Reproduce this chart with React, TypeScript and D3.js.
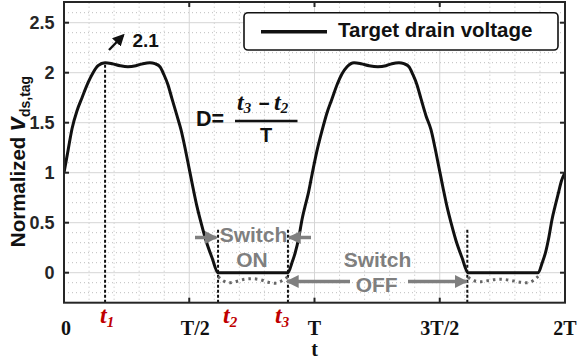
import React from "react";
import * as d3 from "d3";

// Normalized target drain voltage over two switching periods (t in units of T)
const curveT = [
  0.0, 0.016, 0.032, 0.052, 0.072, 0.096, 0.116, 0.136, 0.164, 0.192, 0.224, 0.255, 0.287, 0.315, 0.343,
  0.363, 0.383, 0.399, 0.415, 0.431, 0.451, 0.467, 0.483, 0.499, 0.515, 0.531, 0.547, 0.567, 0.591, 0.615,
  0.894, 0.91, 0.922, 0.938, 0.95, 0.962, 0.974, 0.99,
  1.01, 1.03, 1.05, 1.07, 1.09, 1.11, 1.13, 1.158, 1.186, 1.218, 1.253, 1.285, 1.309, 1.337,
  1.357, 1.377, 1.393, 1.409, 1.425, 1.445, 1.465, 1.481, 1.497, 1.513, 1.529, 1.545, 1.565, 1.589, 1.613,
  1.893, 1.909, 1.921, 1.936, 1.948, 1.96, 1.972, 1.986, 2.0,
];
const curveV = [
  1.0, 1.22, 1.44, 1.62, 1.75, 1.9, 2.0, 2.07, 2.1, 2.09, 2.07, 2.06, 2.07, 2.09, 2.1,
  2.09, 2.06, 1.98, 1.88, 1.74, 1.57, 1.43, 1.25, 1.05, 0.85, 0.66, 0.5, 0.32, 0.15, 0.0,
  0.0, 0.1, 0.19, 0.36, 0.53, 0.66, 0.78, 0.98,
  1.22, 1.42, 1.6, 1.74, 1.88, 1.99, 2.06, 2.1, 2.09, 2.07, 2.06, 2.07, 2.09, 2.1,
  2.09, 2.06, 1.98, 1.88, 1.74, 1.57, 1.43, 1.25, 1.05, 0.85, 0.66, 0.5, 0.32, 0.15, 0.0,
  0.0, 0.1, 0.19, 0.36, 0.53, 0.66, 0.78, 0.92, 1.0,
];

// Small negative ripple while the switch is on (dotted)
const rippleT1 = [0.615, 0.635, 0.659, 0.691, 0.723, 0.751, 0.783, 0.815, 0.843, 0.87, 0.894];
const rippleV1 = [-0.04, -0.08, -0.1, -0.085, -0.065, -0.06, -0.07, -0.095, -0.105, -0.08, -0.04];
const rippleT2 = [1.613, 1.637, 1.665, 1.701, 1.741, 1.78, 1.82, 1.848, 1.872, 1.893];
const rippleV2 = [-0.045, -0.08, -0.09, -0.075, -0.065, -0.075, -0.095, -0.1, -0.08, -0.035];

// Time markers
const t1 = 0.164;
const t2 = 0.615;
const t3 = 0.894;
const t2Next = 1.61;
const peakValue = 2.1;
const markerTop = 0.44;

const xTicks = [0, 0.5, 1, 1.5, 2];
const xTickLabels = ["0", "T/2", "T", "3T/2", "2T"];
const xLabelOffsets = [2, 6, 0, 0, 0];
const yTicks = [0, 0.5, 1, 1.5, 2, 2.5];
const yTickLabels = ["0", "0.5", "1", "1.5", "2", "2.5"];

const W = 578;
const H = 364;
const left = 64;
const right = 565;
const top = 2.7;
const bottom = 302.7;

const SANS = "'Liberation Sans', Arial, Helvetica, sans-serif";
const SERIF = "'Liberation Serif', 'Times New Roman', serif";
const GRAY = "#7f7f7f";
const RED = "#c00000";
const AXIS = "#262626";

export default function App() {
  const x = d3.scaleLinear().domain([0, 2]).range([left, right]);
  const y = d3.scaleLinear().domain([-0.3, 2.7]).range([bottom, top]);

  const line = d3
    .line<number>()
    .x((_, i) => x(curveT[i]))
    .y((v) => y(v))
    .curve(d3.curveMonotoneX);

  const rippleLine = (ts: number[]) =>
    d3
      .line<number>()
      .x((_, i) => x(ts[i]))
      .y((v) => y(v))
      .curve(d3.curveMonotoneX);

  const minorX = d3.range(0, 21).map((i) => i / 10).filter((v) => Math.abs(v * 2 - Math.round(v * 2)) > 1e-6);
  const minorY = d3.range(-2, 27).map((i) => i / 10).filter((v) => Math.abs(v * 2 - Math.round(v * 2)) > 1e-6);

  return (
    <svg width={W} height={H} style={{ position: "absolute", left: 0, top: 0, background: "#fff" }}>
      <defs>
        <marker id="grayHead" viewBox="0 0 10 10" refX="9" refY="5" markerWidth="13" markerHeight="13"
          markerUnits="userSpaceOnUse" orient="auto">
          <path d="M0,0 L10,5 L0,10 z" fill={GRAY} />
        </marker>
        <marker id="blackHead" viewBox="0 0 10 10" refX="8" refY="5" markerWidth="12" markerHeight="12"
          markerUnits="userSpaceOnUse" orient="auto">
          <path d="M0,0 L10,5 L0,10 z" fill="#111" />
        </marker>
        <clipPath id="plotClip">
          <rect x={left} y={top} width={right - left} height={bottom - top} />
        </clipPath>
      </defs>
      <rect x={0} y={0} width={W} height={H} fill="#fff" />

      {/* grid */}
      <g>
        {minorX.map((v) => (
          <line key={"mx" + v} x1={x(v)} x2={x(v)} y1={top} y2={bottom} stroke="#bdbdbd" strokeWidth={1}
            strokeDasharray="1 3" />
        ))}
        {minorY.map((v) => (
          <line key={"my" + v} x1={left} x2={right} y1={y(v)} y2={y(v)} stroke="#bdbdbd" strokeWidth={1}
            strokeDasharray="1 3" />
        ))}
        {xTicks.map((v) => (
          <line key={"gx" + v} x1={x(v)} x2={x(v)} y1={top} y2={bottom} stroke="#d6d6d6" strokeWidth={1} />
        ))}
        {yTicks.map((v) => (
          <line key={"gy" + v} x1={left} x2={right} y1={y(v)} y2={y(v)} stroke="#d6d6d6" strokeWidth={1} />
        ))}
      </g>

      {/* legend */}
      <rect x={244} y={12.7} width={314} height={37.3} rx={4} fill="#fff" stroke="#111" strokeWidth={1.6} />
      <line x1={261} x2={327} y1={31.7} y2={31.7} stroke="#111" strokeWidth={3.5} />
      <text x={338} y={36.8} fontFamily={SANS} fontWeight="bold" fontSize={20.5} fill="#111">
        Target drain voltage
      </text>

      {/* marker lines */}
      <g stroke="#111" strokeWidth={2} strokeDasharray="3 2">
        <line x1={x(t1)} x2={x(t1)} y1={bottom} y2={y(peakValue)} />
        <line x1={x(t2)} x2={x(t2)} y1={bottom} y2={y(markerTop)} />
        <line x1={x(t3)} x2={x(t3)} y1={bottom} y2={y(markerTop)} />
        <line x1={x(t2Next)} x2={x(t2Next)} y1={bottom} y2={y(markerTop)} />
      </g>

      {/* ripple (dotted) */}
      <g clipPath="url(#plotClip)" fill="none" stroke="#666" strokeWidth={3} strokeDasharray="2.5 4">
        <path d={rippleLine(rippleT1)(rippleV1) || ""} />
        <path d={rippleLine(rippleT2)(rippleV2) || ""} />
      </g>

      {/* main curve */}
      <path d={line(curveV) || ""} fill="none" stroke="#111" strokeWidth={3} clipPath="url(#plotClip)" />

      {/* axes frame */}
      <rect x={left} y={top - 0.7} width={right - left} height={bottom - top + 0.7} fill="none" stroke={AXIS}
        strokeWidth={2} />
      {xTicks.slice(1, -1).map((v) => (
        <g key={"tx" + v} stroke={AXIS} strokeWidth={2}>
          <line x1={x(v)} x2={x(v)} y1={bottom} y2={bottom - 5} />
          <line x1={x(v)} x2={x(v)} y1={top - 0.7} y2={top + 4.3} />
        </g>
      ))}
      {yTicks.map((v) => (
        <g key={"ty" + v} stroke={AXIS} strokeWidth={2}>
          <line x1={left} x2={left + 5} y1={y(v)} y2={y(v)} />
          <line x1={right} x2={right - 5} y1={y(v)} y2={y(v)} />
        </g>
      ))}

      {/* y tick labels */}
      {yTicks.map((v, i) => (
        <text key={"yl" + v} x={54.5} y={y(v)} dy="0.36em" textAnchor="end" fontFamily={SANS} fontWeight="bold"
          fontSize={18} fill={AXIS}>
          {yTickLabels[i]}
        </text>
      ))}

      {/* x tick labels */}
      {xTicks.map((v, i) => (
        <text key={"xl" + v} x={x(v) + xLabelOffsets[i]} y={335} textAnchor="middle" fontFamily={SERIF}
          fontWeight="bold" fontSize={20} fill="#111">
          {xTickLabels[i]}
        </text>
      ))}
      <text x={x(1)} y={356} textAnchor="middle" fontFamily={SERIF} fontWeight="bold" fontSize={20} fill="#111">
        t
      </text>

      {/* time marker labels */}
      {[
        { lx: 100, sub: "1" },
        { lx: 223, sub: "2" },
        { lx: 275, sub: "3" },
      ].map((m) => (
        <text key={m.sub} x={m.lx} y={323} fontFamily={SERIF} fontWeight="bold" fontStyle="italic" fontSize={24}
          fill={RED}>
          t<tspan fontSize={15} dy={4}>{m.sub}</tspan>
        </text>
      ))}

      {/* y axis label */}
      <text transform="translate(25,161.5) rotate(-90)" textAnchor="middle" fontFamily={SANS} fontWeight="bold"
        fill="#111">
        <tspan fontSize={20.5}>Normalized </tspan>
        <tspan fontSize={25} fontStyle="italic">v</tspan>
        <tspan fontSize={14} dy={5}>ds,tag</tspan>
      </text>

      {/* peak annotation */}
      <line x1={109} y1={50} x2={123} y2={35.5} stroke="#111" strokeWidth={2.4} markerEnd="url(#blackHead)" />
      <text x={132.5} y={46.8} fontFamily={SANS} fontWeight="bold" fontSize={19} fill="#111">
        2.1
      </text>

      {/* duty cycle formula */}
      <text x={196} y={125.5} fontFamily={SANS} fontWeight="bold" fontSize={21.5} fill="#111">
        D=
      </text>
      <line x1={235} x2={297.5} y1={121} y2={121} stroke="#111" strokeWidth={2.4} />
      <text x={237} y={110} fontFamily={SERIF} fontWeight="bold" fontStyle="italic" fontSize={24} fill="#111">
        t<tspan fontSize={15} dy={3}>3</tspan>
      </text>
      <text x={264} y={110} textAnchor="middle" fontFamily={SANS} fontWeight="bold" fontSize={19} fill="#111">
        −
      </text>
      <text x={274} y={110} fontFamily={SERIF} fontWeight="bold" fontStyle="italic" fontSize={24} fill="#111">
        t<tspan fontSize={15} dy={3}>2</tspan>
      </text>
      <text x={266} y={141.5} textAnchor="middle" fontFamily={SANS} fontWeight="bold" fontSize={20} fill="#111">
        T
      </text>

      {/* switch state annotations */}
      <g fontFamily={SANS} fontWeight="bold" fontSize={21} fill={GRAY} textAnchor="middle">
        <text x={253.5} y={241.7}>Switch</text>
        <text x={252} y={266.7}>ON</text>
        <text x={377.5} y={266.7}>Switch</text>
        <text x={376.7} y={291.5}>OFF</text>
      </g>
      <g stroke={GRAY} strokeWidth={3.5}>
        <line x1={195} y1={237.5} x2={216.5} y2={237.5} markerEnd="url(#grayHead)" />
        <line x1={311} y1={237.5} x2={289} y2={237.5} markerEnd="url(#grayHead)" />
        <line x1={350} y1={281.5} x2={287} y2={281.5} markerEnd="url(#grayHead)" />
        <line x1={408} y1={281.5} x2={466.5} y2={281.5} markerEnd="url(#grayHead)" />
      </g>
    </svg>
  );
}
